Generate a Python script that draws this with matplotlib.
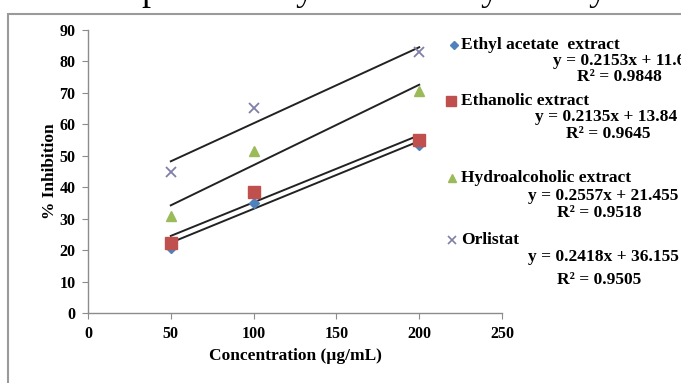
import matplotlib.pyplot as plt
from matplotlib.lines import Line2D
from matplotlib.patches import Rectangle
import numpy as np

plt.rcParams['font.family'] = ['Liberation Serif', 'DejaVu Serif']
plt.rcParams['font.weight'] = 'bold'
plt.rcParams['axes.labelweight'] = 'bold'

# data
conc = [50, 100, 200]
series_names = ['Ethyl acetate  extract', 'Ethanolic extract',
                'Hydroalcoholic extract', 'Orlistat']
ethyl = [20.7, 35.1, 53.5]
ethanolic = [22.4, 38.6, 55.1]
hydro = [30.7, 51.6, 70.7]
orlistat = [44.8, 65.2, 83.1]
slopes = [0.2153, 0.2135, 0.2557, 0.2418]
intercepts = [11.6, 13.84, 21.455, 36.155]
eq_text = ['y = 0.2153x + 11.6', 'y = 0.2135x + 13.84',
           'y = 0.2557x + 21.455', 'y = 0.2418x + 36.155']
r2_text = ['R² = 0.9848', 'R² = 0.9645', 'R² = 0.9518', 'R² = 0.9505']
xticks = [0, 50, 100, 150, 200, 250]
yticks = [0, 10, 20, 30, 40, 50, 60, 70, 80, 90]

colors = ['#4F81BD', '#C0504D', '#9BBB59', '#7F7FA8']
markers = ['D', 's', '^', 'x']
msizes = [5, 8, 7, 7]

W, H = 681, 383
fig = plt.figure(figsize=(W / 100, H / 100), dpi=100)
fig.patch.set_facecolor('white')

# chart frame (cut at right and bottom)
fig.add_artist(Rectangle((8 / W, -0.1), 1.1, 1 - 14 / H + 0.1,
                         transform=fig.transFigure, fill=False,
                         edgecolor='#9a9a9a', linewidth=1.5))

# descenders of the line of text above the chart
for xp, ch in [(150, 'p'), (305, 'y'), (490, 'y'), (598, 'y')]:
    fig.text(xp / W, 1.0, ch, fontsize=26, weight='normal',
             va='baseline', ha='center')

ax = fig.add_axes([88 / W, 1 - 313 / H, (502 - 88) / W, (313 - 30) / H])
ax.set_facecolor('none')

all_y = [ethyl, ethanolic, hydro, orlistat]
x_fit = np.array([conc[0], conc[-1]])
for i, yv in enumerate(all_y):
    ax.plot(x_fit, slopes[i] * x_fit + intercepts[i], color='#222222',
            linewidth=1.4, zorder=2)
for i, yv in enumerate(all_y):
    kw = dict(color=colors[i], markersize=msizes[i], linestyle='none',
              marker=markers[i], zorder=3)
    if markers[i] == 'x':
        kw['markeredgewidth'] = 1.3
    ax.plot(conc, yv, **kw)

ax.set_xlim(0, 250)
ax.set_ylim(0, 90)
ax.set_xticks(xticks)
ax.set_yticks(yticks)
for s in ['top', 'right']:
    ax.spines[s].set_visible(False)
for s in ['left', 'bottom']:
    ax.spines[s].set_color('#8c8c8c')
    ax.spines[s].set_linewidth(1.0)
ax.tick_params(direction='out', length=4, color='#8c8c8c', labelsize=11.5,
               pad=5)
ax.set_xlabel('Concentration (µg/mL)', fontsize=12.5, labelpad=5)
ax.set_ylabel('% Inhibition', fontsize=12.5, labelpad=1)

# legend with trendline equations (labels centred like Excel's)
name_y = [45, 101, 178, 240]
eq_y = [61, 117, 196, 257]
r2_y = [77, 134, 213, 280]
mk_x = [454, 451, 452, 452]
eq_x = [553, 535, 528, 528]
r2_x = [577, 566, 557, 557]
for i in range(4):
    fig.add_artist(Line2D([mk_x[i] / W], [1 - name_y[i] / H],
                          transform=fig.transFigure, marker=markers[i],
                          color=colors[i], markersize=msizes[i] - 1,
                          markeredgewidth=1.2 if markers[i] == 'x' else 1))
    fig.text(461 / W, 1 - name_y[i] / H, series_names[i], fontsize=12.5,
             va='center', ha='left')
    fig.text(eq_x[i] / W, 1 - eq_y[i] / H, eq_text[i], fontsize=12.5,
             va='center', ha='left')
    fig.text(r2_x[i] / W, 1 - r2_y[i] / H, r2_text[i], fontsize=12.5,
             va='center', ha='left')

fig.savefig('out.png', dpi=100)
